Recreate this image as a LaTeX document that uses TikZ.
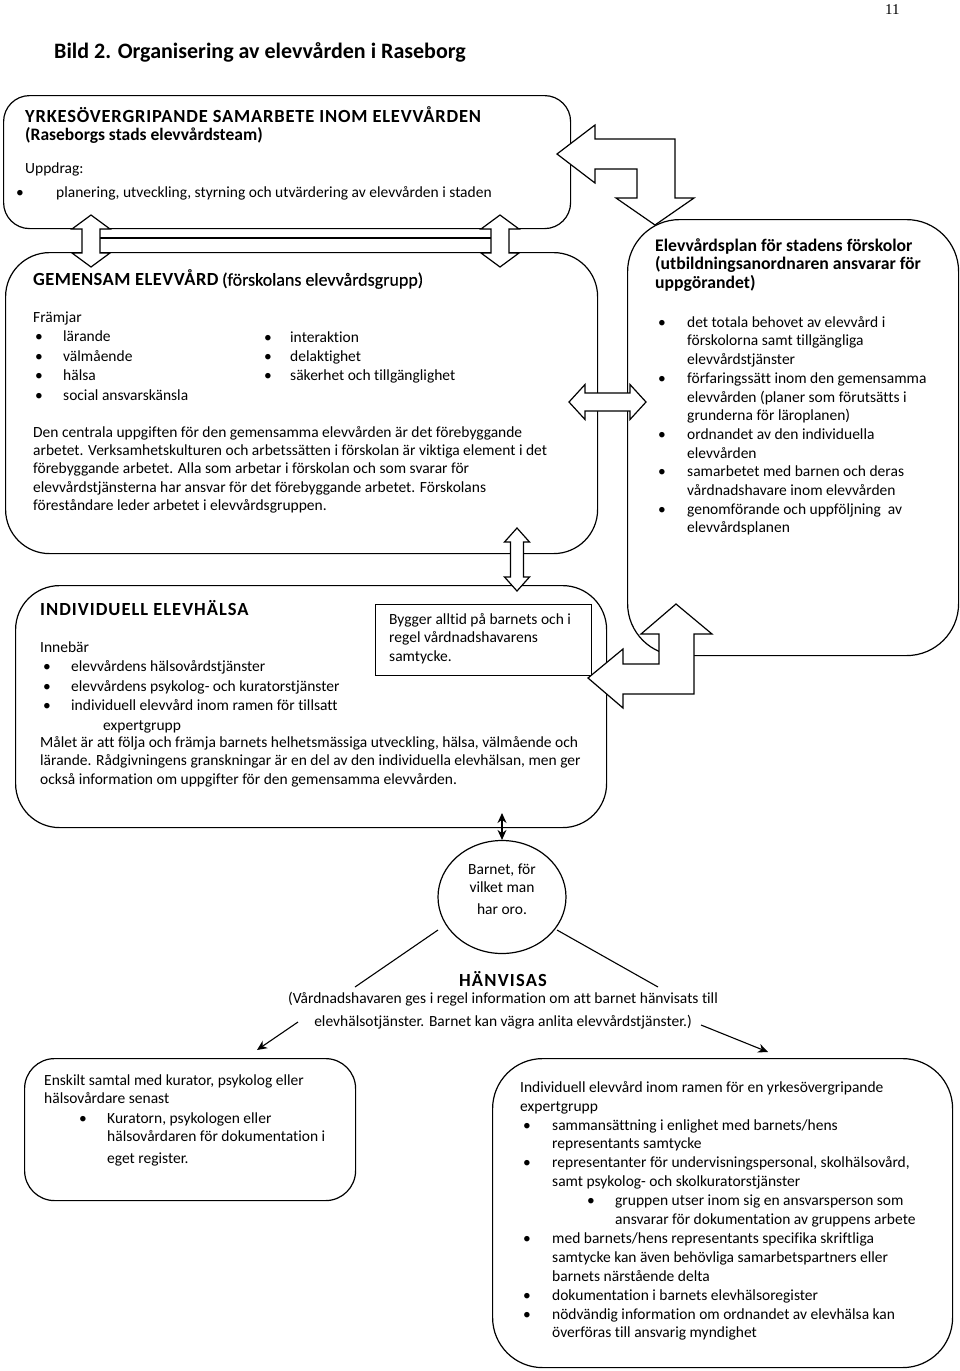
\documentclass[tikz,border=0pt]{standalone}
\usepackage{fontspec}
\setmainfont{Carlito}[Ligatures={NoCommon}]
\newfontfamily\numfont{Liberation Serif}
\newfontfamily\medfont[FakeBold=0.3,Ligatures={NoCommon}]{Carlito}
\usetikzlibrary{shapes.geometric,arrows.meta}
\newcommand\fsz[2]{\fontsize{#1}{#2}\selectfont}
\newcommand\bu[1]{\makebox[#1][l]{\textbullet}}
\newcommand\fl{\rule{0pt}{16pt}}
\newcommand\vdarr[6]{%
 \draw[blockarrow] (#1,#2) -- ({#1+#4},{#2+#6}) -- ({#1+#5},{#2+#6}) -- ({#1+#5},{#3-#6}) -- ({#1+#4},{#3-#6}) -- (#1,#3) -- ({#1-#4},{#3-#6}) -- ({#1-#5},{#3-#6}) -- ({#1-#5},{#2+#6}) -- ({#1-#4},{#2+#6}) -- cycle;}
\begin{document}
\begin{tikzpicture}[x=1pt,y=-1pt,
  box/.style={draw, line width=1.2pt, rounded corners=#1, anchor=north west, inner sep=0pt},
  plainbox/.style={draw, line width=1.2pt, anchor=north west, inner sep=0pt},
  blockarrow/.style={draw, fill=white, line width=1.2pt, line join=miter},
  txt/.style={anchor=north west, inner sep=0pt, align=left, font=\fsz{15.5}{19}},
  caps/.style={font=\bfseries\fsz{18.5}{19}},
  thinline/.style={line width=1.1pt},
  thinarrow/.style={line width=1.1pt, -{Stealth[length=10pt,width=9pt]}},
  dblarrow/.style={line width=1.1pt, {Stealth[length=10pt,width=9pt]}-{Stealth[length=10pt,width=9pt]}}]
\useasboundingbox (0,0) rectangle (960,1371);

% boxes
\node[box=26, minimum width=567pt, minimum height=133pt] (yrkes) at (3,95) {};
\node[box=44, minimum width=592pt, minimum height=301pt] (gemensam) at (5,252) {};
\node[box=52, minimum width=331pt, minimum height=436pt] (plan) at (627,219) {};
\node[box=44, minimum width=591pt, minimum height=242pt] (individ) at (15,585) {};
\node[plainbox, minimum width=216pt, minimum height=71pt] (bygger) at (375,604) {};
\node[draw, line width=1.2pt, ellipse, minimum width=128pt, minimum height=113pt, inner sep=0pt] (child) at (502,897) {};
\node[box=30, minimum width=331pt, minimum height=142pt] (enskilt) at (24,1058) {};
\node[box=50, minimum width=460pt, minimum height=309pt] (expert) at (492,1058) {};

% line between the two upper double arrows
\coordinate (bl) at (91,238);
\coordinate (br) at (500,238);
\draw[line width=1.2pt] (bl) -- (br);

% block arrows
\vdarr{91}{215}{267}{19}{9}{14}
\vdarr{500}{215}{267}{19}{9}{14}
\vdarr{517}{528}{591}{12.5}{6.5}{14}
\draw[blockarrow] (569,402) -- (585,384.5) -- (585,393) -- (630,393) -- (630,384.5) -- (646,402) -- (630,419.5) -- (630,411) -- (585,411) -- (585,419.5) -- cycle;
\draw[blockarrow] (557,154) -- (595,125) -- (595,139) -- (675,139) -- (675,198) -- (694,198) -- (655,225) -- (616,198) -- (637,198) -- (637,169) -- (595,169) -- (595,183) -- cycle;
\draw[blockarrow] (676,604) -- (712,634) -- (694,634) -- (694,694) -- (623,694) -- (623,708) -- (588,678) -- (623,649) -- (623,664) -- (659,664) -- (659,634) -- (641,634) -- cycle;

% thin connectors
\coordinate (up) at (502,813);
\draw[dblarrow] (up) -- (child.north);
\coordinate (l1) at (438,930);
\coordinate (l2) at (355,987);
\coordinate (r1) at (557,930);
\coordinate (r2) at (658,987);
\draw[thinline] (l1) -- (l2);
\draw[thinline] (r1) -- (r2);
\coordinate (la) at (298,1022);
\coordinate (lb) at (257,1050);
\coordinate (ra) at (701,1025);
\coordinate (rb) at (768,1052);
\draw[thinarrow] (la) -- (lb);
\draw[thinarrow] (ra) -- (rb);

% texts
\node[anchor=base west, inner sep=0pt, font=\numfont\fsz{15}{18}] (pagenum) at (885,14) {11};
\node[anchor=base west, inner sep=0pt, font=\bfseries\fsz{22}{24}] (title) at (54,58) {Bild 2. Organisering av elevvården i Raseborg};

\node[txt, font=\fsz{15.5}{18}] (t1) at (25,106.5) {\fl{\fsz{18.5}{18}\bfseries\addfontfeatures{LetterSpace=4.3}YRKESÖVERGRIPANDE SAMARBETE INOM ELEVVÅRDEN}\\
{\fsz{17.5}{18}\bfseries(Raseborgs stads elevvårdsteam)}\\[15pt]
Uppdrag:\\[6pt]
\hspace*{-9pt}\bu{40pt}planering, utveckling, styrning och utvärdering av elevvården i staden};

\node[txt] (t2a) at (33,269.5) {\fl{\fsz{18.5}{19}\bfseries\addfontfeatures{LetterSpace=2.5}GEMENSAM ELEVVÅRD} {\fsz{18}{19}\medfont(förskolans elevvårdsgrupp)}};
\node[txt, font=\fsz{15.5}{19.5}] (t2b) at (33,306) {\fl Främjar\\
\hspace*{2pt}\bu{28pt}lärande\\
\hspace*{2pt}\bu{28pt}välmående\\
\hspace*{2pt}\bu{28pt}hälsa\\
\hspace*{2pt}\bu{28pt}social ansvarskänsla};
\node[txt] (t2c) at (264,326) {\fl\bu{26pt}interaktion\\
\bu{26pt}delaktighet\\
\bu{26pt}säkerhet och tillgänglighet};
\node[txt, font=\fsz{15.5}{18.3}] (t2d) at (33,421) {\fl Den centrala uppgiften för den gemensamma elevvården är det förebyggande\\
arbetet. Verksamhetskulturen och arbetssätten i förskolan är viktiga element i det\\
förebyggande arbetet. Alla som arbetar i förskolan och som svarar för\\
elevvårdstjänsterna har ansvar för det förebyggande arbetet. Förskolans\\
föreståndare leder arbetet i elevvårdsgruppen.};

\node[txt, font=\bfseries\fsz{17.7}{18.5}] (t3a) at (655,235) {\fl Elevvårdsplan för stadens förskolor\\
(utbildningsanordnaren ansvarar för\\
uppgörandet)};
\node[txt, font=\fsz{15.5}{18.7}] (t3b) at (658,311) {\fl\bu{29pt}det totala behovet av elevvård i\\
\hspace*{29pt}förskolorna samt tillgängliga\\
\hspace*{29pt}elevvårdstjänster\\
\bu{29pt}förfaringssätt inom den gemensamma\\
\hspace*{29pt}elevvården (planer som förutsätts i\\
\hspace*{29pt}grunderna för läroplanen)\\
\bu{29pt}ordnandet av den individuella\\
\hspace*{29pt}elevvården\\
\bu{29pt}samarbetet med barnen och deras\\
\hspace*{29pt}vårdnadshavare inom elevvården\\
\bu{29pt}genomförande och uppföljning\ \ av\\
\hspace*{29pt}elevvårdsplanen};

\node[txt] (t4a) at (40,599) {\fl{\fsz{18.5}{19}\bfseries\addfontfeatures{LetterSpace=5.4}INDIVIDUELL ELEVHÄLSA}};
\node[txt, font=\fsz{15.5}{19.5}] (t4b) at (40,636) {\fl Innebär\\
\hspace*{3pt}\bu{28pt}elevvårdens hälsovårdstjänster\\
\hspace*{3pt}\bu{28pt}elevvårdens psykolog- och kuratorstjänster\\
\hspace*{3pt}\bu{28pt}individuell elevvård inom ramen för tillsatt\\
\hspace*{63pt}expertgrupp};
\node[txt, font=\fsz{15.5}{18.5}] (t4c) at (40,731) {\fl Målet är att följa och främja barnets helhetsmässiga utveckling, hälsa, välmående och\\
lärande. Rådgivningens granskningar är en del av den individuella elevhälsan, men ger\\
också information om uppgifter för den gemensamma elevvården.};
\node[txt, font=\fsz{15.5}{18.5}] (t4d) at (389,608) {\fl Bygger alltid på barnets och i\\
regel vårdnadshavarens\\
samtycke.};

\node[anchor=north, inner sep=0pt, align=center, font=\fsz{15.5}{18}] (t5) at (502,858) {\fl Barnet, för\\
vilket man\\[4pt]
har oro.};

\node[anchor=base, inner sep=0pt, font=\bfseries\fsz{18.5}{18}\addfontfeatures{LetterSpace=6.5}] (t6) at (503,986) {HÄNVISAS};
\node[anchor=north, inner sep=0pt, align=center, font=\fsz{15.5}{23}] (t7) at (503,987) {\fl(Vårdnadshavaren ges i regel information om att barnet hänvisats till\\
elevhälsotjänster. Barnet kan vägra anlita elevvårdstjänster.)};

\node[txt, font=\fsz{15.5}{18.5}] (t8) at (44,1069) {\fl Enskilt samtal med kurator, psykolog eller\\
hälsovårdare senast\\[1pt]
\hspace*{35pt}\bu{28pt}Kuratorn, psykologen eller\\
\hspace*{63pt}hälsovårdaren för dokumentation i\\[3pt]
\hspace*{63pt}eget register.};

\node[txt, font=\fsz{15.5}{18.9}] (t9) at (520,1076) {\fl Individuell elevvård inom ramen för en yrkesövergripande\\
expertgrupp\\
\hspace*{3pt}\bu{29pt}sammansättning i enlighet med barnets/hens\\
\hspace*{32pt}representants samtycke\\
\hspace*{3pt}\bu{29pt}representanter för undervisningspersonal, skolhälsovård,\\
\hspace*{32pt}samt psykolog- och skolkuratorstjänster\\
\hspace*{67pt}\bu{28pt}gruppen utser inom sig en ansvarsperson som\\
\hspace*{95pt}ansvarar för dokumentation av gruppens arbete\\
\hspace*{3pt}\bu{29pt}med barnets/hens representants specifika skriftliga\\
\hspace*{32pt}samtycke kan även behövliga samarbetspartners eller\\
\hspace*{32pt}barnets närstående delta\\
\hspace*{3pt}\bu{29pt}dokumentation i barnets elevhälsoregister\\
\hspace*{3pt}\bu{29pt}nödvändig information om ordnandet av elevhälsa kan\\
\hspace*{32pt}överföras till ansvarig myndighet};
\end{tikzpicture}
\end{document}
